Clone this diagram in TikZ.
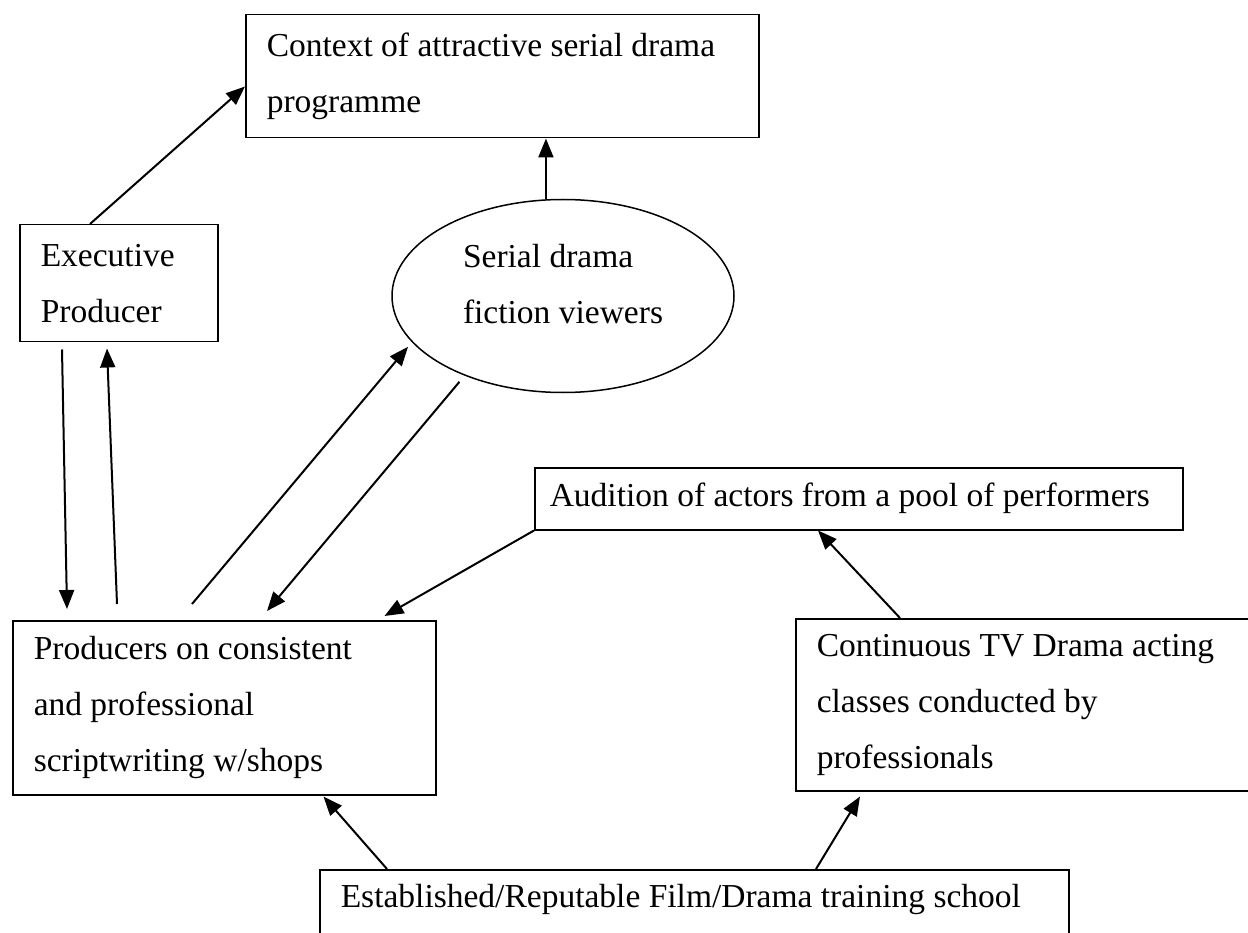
\documentclass[tikz,border=0pt]{standalone}
\usepackage{fontspec}
\setmainfont{Liberation Serif}
\usetikzlibrary{arrows.meta,shapes.geometric}
\tikzset{
    box/.style={draw, line width=1.5pt, anchor=north west, inner xsep=21pt, inner ysep=0pt, align=flush left},
    arr/.style={line width=2pt, -{Triangle[length=19pt,width=15pt]}}
}
\begin{document}
\begin{tikzpicture}[x=1pt,y=-1pt,font=\fontsize{33.5}{56}\selectfont]
    \useasboundingbox (0,0) rectangle (1248,933);
    \node[box, text width=471pt, minimum height=123pt] (ctx) at (245,14) {Context of attractive serial drama\\programme};
    \node[box, text width=156pt, minimum height=117pt] (exec) at (19,224) {Executive\\Producer};
    \node[draw, ellipse, line width=1.5pt, minimum width=342pt, minimum height=193pt, align=flush left, text depth=24pt] (view) at (563,296) {Serial drama\\fiction viewers};
    \node[box, inner xsep=15pt, text width=618pt, minimum height=62pt] (aud) at (534,467) {Audition of actors from a pool of performers};
    \node[box, text width=381pt, minimum height=174pt] (prod) at (12,620) {Producers on consistent\\and professional\\scriptwriting w/shops};
    \node[box, text width=423pt, minimum height=172pt] (cont) at (795,618) {Continuous TV Drama acting\\classes conducted by\\professionals};
    \node[box, text width=707pt, inner ysep=15pt, text depth=60pt] (est) at (319,869) {Established/Reputable Film/Drama training school};
    \draw[arr] ([xshift=71pt]exec.north west) -- ([yshift=52pt]ctx.south west);
    \draw[arr] (view.100) -- (view.100 |- ctx.south);
    \draw[arr] ([xshift=43pt,yshift=-7pt]exec.south west) -- ([xshift=55pt,yshift=11pt]prod.north west);
    \draw[arr] ([xshift=105pt,yshift=16pt]prod.north west) -- ([xshift=88pt,yshift=-6pt]exec.south west);
    \draw[arr, shorten >=6pt] ([xshift=180pt,yshift=16pt]prod.north west) -- (view.197);
    \draw[arr, shorten <=8pt] (view.219) -- ([xshift=255pt,yshift=9pt]prod.north west);
    \draw[arr] (aud.south west) -- ([xshift=-52pt,yshift=4pt]prod.north east);
    \draw[arr] ([xshift=105pt]cont.north west) -- ([xshift=284pt]aud.south west);
    \draw[arr] ([xshift=68pt]est.north west) -- ([xshift=-113pt,yshift=-1pt]prod.south east);
    \draw[arr] ([xshift=497pt]est.north west) -- ([xshift=65pt,yshift=-5pt]cont.south west);
\end{tikzpicture}
\end{document}
